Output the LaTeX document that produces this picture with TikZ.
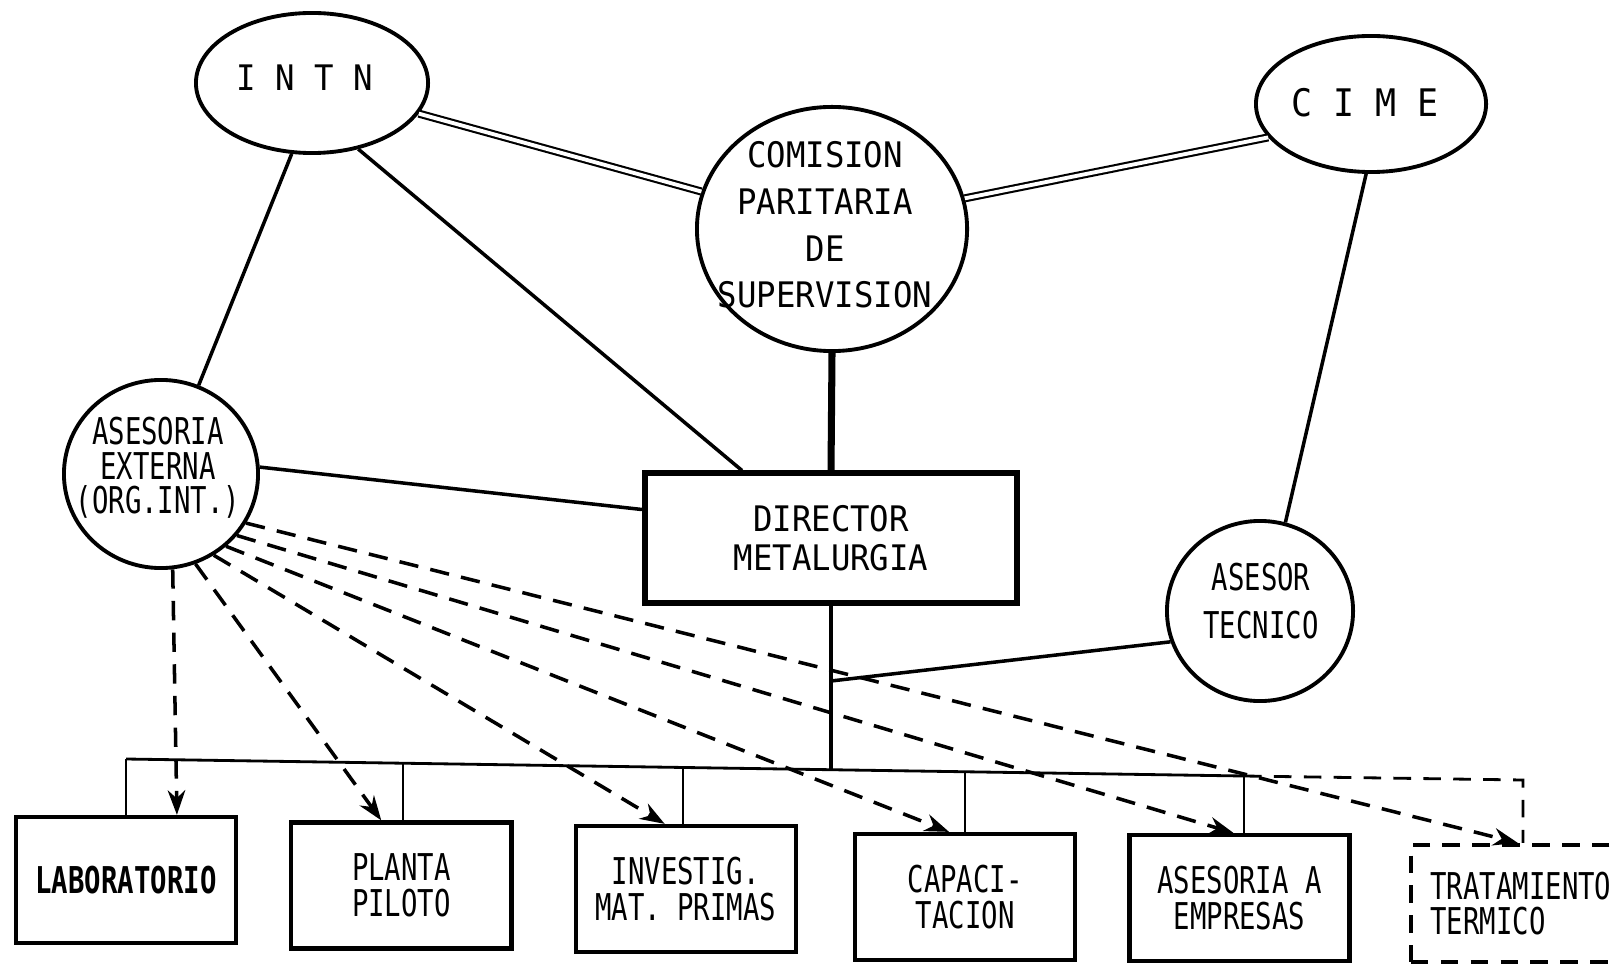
\documentclass[tikz,border=0pt]{standalone}
\usepackage{fontspec}
\usepackage{tikz}
\usetikzlibrary{positioning,arrows.meta,shapes.geometric}
\newfontfamily\typefont[FakeStretch=0.92]{DejaVu Sans Mono}
\newfontfamily\handfont[FakeStretch=0.74]{DejaVu Sans Mono}
\newcommand{\typetext}{\typefont\fontsize{10}{11}\selectfont}
\newcommand{\handtext}{\handfont\fontsize{10.5}{10.2}\selectfont}

\begin{document}
\begin{tikzpicture}[x=0.01cm,y=-0.01cm,>={Stealth[length=7pt,width=5pt]},
  every node/.style={inner sep=0pt},
  org/.style={draw,ellipse,line width=1.1pt},
  unit/.style={draw,rectangle,line width=1.2pt,minimum width=2.2cm,minimum height=1.26cm,font=\handtext,align=center},
  typed/.style={font=\typetext,align=center},
  handed/.style={font=\handtext,align=center},
  link/.style={line width=1pt},
  twin/.style={double,double distance=1.1pt,line width=0.6pt},
  bus/.style={line width=0.8pt},
  advice/.style={line width=1pt,dash pattern=on 5.5pt off 3.5pt,->}]
  \clip (0,0) rectangle (1619,964);

  \node[org,minimum width=2.32cm,minimum height=1.40cm] (intn) at (312,83) {};
  \node[typed] (intn-t) at (305,78) {I N T N};
  \node[org,minimum width=2.30cm,minimum height=1.36cm] (cime) at (1371,104) {};
  \node[typed,font=\typetext\fontsize{10.8}{11}\selectfont] (cime-t) at (1365,103) {C I M E};
  \node[org,minimum width=2.70cm,minimum height=2.44cm] (com) at (832,229) {};
  \node[typed,font=\typetext\fontsize{10}{13.3}\selectfont] (com-t) at (825,225) {COMISION\\PARITARIA\\DE\\SUPERVISION};
  \node[draw,rectangle,line width=1.7pt,minimum width=3.72cm,minimum height=1.29cm,typed] (dir) at (831,538) {DIRECTOR\\METALURGIA};
  \node[org,minimum width=1.94cm,minimum height=1.88cm] (ext) at (161,474) {};
  \node[handed,font=\handtext\fontsize{10.5}{9.8}\selectfont] (ext-t) at (158,468) {ASESORIA\\EXTERNA\\(ORG.INT.)};
  \node[org,minimum width=1.86cm,minimum height=1.80cm] (tec) at (1260,611) {};
  \node[handed,font=\handtext\fontsize{10.5}{13.9}\selectfont] (tec-t) at (1261,601) {ASESOR\\TECNICO};

  \node[unit,font=\handtext\bfseries] (lab) at (126,880) {LABORATORIO};
  \node[unit,right=0.51cm of lab,yshift=-0.055cm] (pla) {PLANTA\\PILOTO};
  \node[unit,right=0.60cm of pla,yshift=-0.035cm] (inv) {INVESTIG.\\MAT. PRIMAS};
  \node[unit,right=0.55cm of inv,yshift=-0.08cm] (cap) {CAPACI-\\TACION};
  \node[unit,right=0.50cm of cap,yshift=-0.01cm] (ase) {ASESORIA A\\EMPRESAS};
  \node[unit,dash pattern=on 5pt off 3.5pt,minimum height=1.17cm,align=left,right=0.57cm of ase,yshift=-0.055cm] (tra) {TRATAMIENTO\\TERMICO};

  \coordinate (b1) at (126,759);
  \coordinate (b2) at (403,763);
  \coordinate (b3) at (683,768);
  \coordinate (bd) at (831,770);
  \coordinate (b4) at (965,772);
  \coordinate (b5) at (1244,776);
  \coordinate (b6) at (1523,780);
  \coordinate (tj) at (831,681);

  \draw[twin] (intn.-16) -- (com.164);
  \draw[twin] (com.13) -- (cime.198);
  \draw[link] (intn.-106) -- (ext.67);
  \draw[link] (intn.-55) -- ([xshift=1.0cm]dir.north west);
  \draw[link] (ext.4) -- ([yshift=-0.39cm]dir.north west);
  \draw[link] (cime.-94) -- (tec.74);
  \draw[line width=2pt] (com.south) -- (dir.north);
  \draw[link] (dir.south) -- (bd);
  \draw[link] (tec.199) -- (tj);

  \draw[bus] (b1) -- (b5);
  \foreach \b/\n in {b1/lab,b2/pla,b3/inv,b4/cap,b5/ase}
    \draw[bus] (\b) -- (\n.north -| \b);
  \draw[bus,dash pattern=on 5pt off 3.5pt] (b5) -- (b6) -- (tra.north -| b6);

  \foreach \a/\n/\s in {-83/lab/1.63cm,-69/pla/0.92cm,-57/inv/0.91cm,-48/cap/0.96cm,-39/ase/1.06cm,-30/tra/1.09cm}
    \draw[advice] (ext.\a) -- ([xshift=\s]\n.north west);
\end{tikzpicture}
\end{document}
